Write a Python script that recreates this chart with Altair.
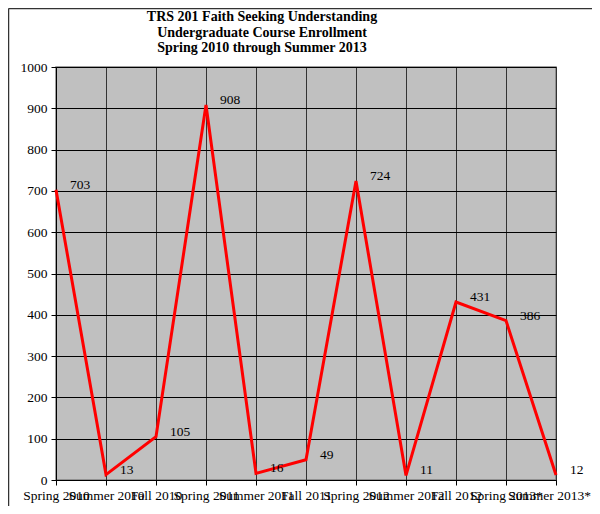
import altair as alt
import pandas as pd

terms = ["Spring 2010", "Summer 2010", "Fall 2010", "Spring 2011", "Summer 2011",
         "Fall 2011", "Spring 2012", "Summer 2012", "Fall 2012", "Spring 2013*", "Summer 2013*"]
enrollment = [703, 13, 105, 908, 16, 49, 724, 11, 431, 386, 12]
title_lines = ["TRS 201 Faith Seeking Understanding", "Undergraduate Course Enrollment",
               "Spring 2010 through Summer 2013"]

df = pd.DataFrame({"term": terms, "enrollment": enrollment})
one = pd.DataFrame({"k": [0]})

FONT = "Liberation Serif"
FS = 13.5

x = alt.X("term:N", sort=terms, scale=alt.Scale(type="point", padding=0),
          axis=alt.Axis(title=None, labelAngle=0, labelOverlap=False, labelFont=FONT,
                        labelFontSize=FS, labelColor="black", labelPadding=3,
                        labelBound=False,
                        labelOffset=alt.condition("datum.value == 'Summer 2013*'",
                                                  alt.value(-7), alt.value(0)),
                        tickColor="black", tickSize=5,
                        domainColor="black", grid=True, gridColor="#333333", gridWidth=1))
y = alt.Y("enrollment:Q", scale=alt.Scale(domain=[0, 1000], nice=False),
          axis=alt.Axis(title=None, values=list(range(0, 1001, 100)), format="d",
                        labelFont=FONT, labelFontSize=FS, labelColor="black",
                        labelPadding=4, tickColor="black", tickSize=5,
                        domainColor="black", grid=True, gridColor="black", gridWidth=1))

base = alt.Chart(df)

line = base.mark_line(color="#FF0000", strokeWidth=3).encode(x=x, y=y)
labels = base.mark_text(font=FONT, fontSize=FS, color="black", align="left",
                        baseline="middle", dx=14, dy=-5).encode(
    x=alt.X("term:N", sort=terms), y="enrollment:Q", text="enrollment:Q")

title = alt.Chart(one).mark_text(
    text="\n".join(title_lines), lineBreak="\n", font=FONT, fontSize=14,
    fontWeight="bold", color="black", align="center", baseline="top",
    lineHeight=15.5).encode(x=alt.value(206), y=alt.value(-57))

border_top = alt.Chart(one).mark_rule(color="#333333", strokeWidth=1.5).encode(
    x=alt.value(-47.5), x2=alt.value(536), y=alt.value(-58.5))
border_left = alt.Chart(one).mark_rule(color="#333333", strokeWidth=1.5).encode(
    x=alt.value(-47.5), y=alt.value(-58.5), y2=alt.value(447))

chart = alt.layer(line, labels, title, border_top, border_left).properties(
    width=500, height=413,
    padding={"left": 48, "top": 59, "right": 36, "bottom": 26},
    autosize=alt.AutoSizeParams(type="none"),
).configure_view(fill="#C0C0C0", stroke="#808080", strokeWidth=1.5)

chart.save("out.html", embed_options={"renderer": "svg", "actions": False})
